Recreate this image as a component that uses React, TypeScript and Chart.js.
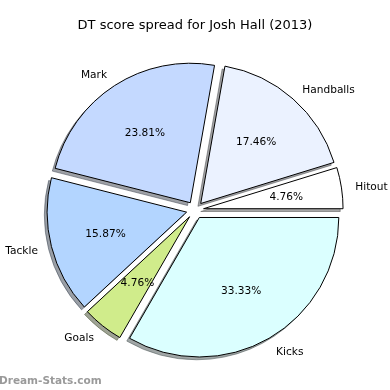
import { useEffect, useRef } from "react";
import { Chart, registerables } from "chart.js";

Chart.register(...registerables);

const TITLE = "DT score spread for Josh Hall (2013)";
const WATERMARK = "Dream-Stats.com";
// matplotlib order (counter-clockwise from 3 o'clock)
const categories = ["Hitout", "Handballs", "Mark", "Tackle", "Goals", "Kicks"];
const counts = [3, 11, 15, 10, 3, 21];
const colors = ["#ffffff", "#ebf2ff", "#c4d9ff", "#b3d5ff", "#d0ec8b", "#dbffff"];

const RADIUS = 139.5;
const EXPLODE = 0.062;
const SHADOW_D = 0.02;
const FONT = "'DejaVu Sans', sans-serif";

function hexToRgb(h: string) {
  const n = parseInt(h.slice(1), 16);
  return [(n >> 16) & 255, (n >> 8) & 255, n & 255];
}

export default function App() {
  const ref = useRef<HTMLCanvasElement | null>(null);

  useEffect(() => {
    if (!ref.current) return;
    // Chart.js draws clockwise; reverse to reproduce counter-clockwise order
    const labels = [...categories].reverse();
    const values = [...counts].reverse();
    const bg = [...colors].reverse();
    const total = counts.reduce((a, b) => a + b, 0);

    const piePlugin = {
      id: "mplPie",
      beforeDatasetDraw(chart: any, args: any) {
        const meta = chart.getDatasetMeta(args.index);
        const ctx = chart.ctx as CanvasRenderingContext2D;
        const arcs = meta.data as any[];
        // shadows first
        arcs.forEach((arc, i) => {
          const { x, y, startAngle, endAngle, outerRadius } = arc.getProps(
            ["x", "y", "startAngle", "endAngle", "outerRadius"],
            true
          );
          const mid = (startAngle + endAngle) / 2;
          const d = outerRadius * EXPLODE;
          const s = outerRadius * SHADOW_D;
          const ox = x + Math.cos(mid) * d - s;
          const oy = y + Math.sin(mid) * d + s;
          const [r, g, b] = hexToRgb(bg[i]);
          const c = `rgba(${Math.round(r * 0.3)},${Math.round(g * 0.3)},${Math.round(b * 0.3)},0.5)`;
          ctx.save();
          ctx.beginPath();
          ctx.moveTo(ox, oy);
          ctx.arc(ox, oy, outerRadius, startAngle, endAngle);
          ctx.closePath();
          ctx.fillStyle = c;
          ctx.fill();
          ctx.strokeStyle = c;
          ctx.lineWidth = 1;
          ctx.stroke();
          ctx.restore();
        });
        arcs.forEach((arc) => {
          const { startAngle, endAngle, outerRadius } = arc.getProps(
            ["startAngle", "endAngle", "outerRadius"],
            true
          );
          const mid = (startAngle + endAngle) / 2;
          const d = outerRadius * EXPLODE;
          ctx.save();
          ctx.translate(Math.cos(mid) * d, Math.sin(mid) * d);
          arc.draw(ctx);
          ctx.restore();
        });
        return false;
      },
      afterDraw(chart: any) {
        const ctx = chart.ctx as CanvasRenderingContext2D;
        const meta = chart.getDatasetMeta(0);
        ctx.save();
        ctx.fillStyle = "#000";
        ctx.font = `10.6px ${FONT}`;
        ctx.textBaseline = "middle";
        (meta.data as any[]).forEach((arc, i) => {
          const { x, y, startAngle, endAngle, outerRadius } = arc.getProps(
            ["x", "y", "startAngle", "endAngle", "outerRadius"],
            true
          );
          const mid = (startAngle + endAngle) / 2;
          const d = outerRadius * EXPLODE;
          const cx = x + Math.cos(mid) * d;
          const cy = y + Math.sin(mid) * d;
          const lx = cx + Math.cos(mid) * outerRadius * 1.1;
          const ly = cy + Math.sin(mid) * outerRadius * 1.1;
          ctx.textAlign = Math.cos(mid) > 0 ? "left" : "right";
          ctx.fillText(labels[i], lx, ly + 1.5);
          const px = cx + Math.cos(mid) * outerRadius * 0.6;
          const py = cy + Math.sin(mid) * outerRadius * 0.6;
          ctx.textAlign = "center";
          ctx.fillText(((values[i] / total) * 100).toFixed(2) + "%", px, py + 1);
        });
        ctx.font = `13px ${FONT}`;
        ctx.textAlign = "center";
        ctx.textBaseline = "middle";
        ctx.fillText(TITLE, 195, 26);
        ctx.font = `bold 10.5px ${FONT}`;
        ctx.fillStyle = "#9a9a9a";
        ctx.textAlign = "left";
        ctx.textBaseline = "alphabetic";
        ctx.fillText(WATERMARK, -1, 384);
        ctx.restore();
      },
    };

    const chart = new Chart(ref.current, {
      type: "pie",
      data: {
        labels,
        datasets: [
          {
            data: values,
            backgroundColor: bg,
            borderColor: "#000000",
            borderWidth: 1,
          },
        ],
      },
      options: {
        responsive: false,
        animation: false,
        events: [],
        rotation: 90,
        radius: RADIUS,
        layout: { padding: { top: 30, bottom: 0, left: 0, right: 0 } },
        plugins: {
          legend: { display: false },
          tooltip: { enabled: false },
          title: { display: false },
        },
      } as any,
      plugins: [piePlugin as any],
    });
    return () => chart.destroy();
  }, []);

  return (
    <div style={{ position: "absolute", left: 0, top: 0, width: 390, height: 390, background: "#fff" }}>
      <canvas ref={ref} width={390} height={390} style={{ display: "block" }} />
    </div>
  );
}
